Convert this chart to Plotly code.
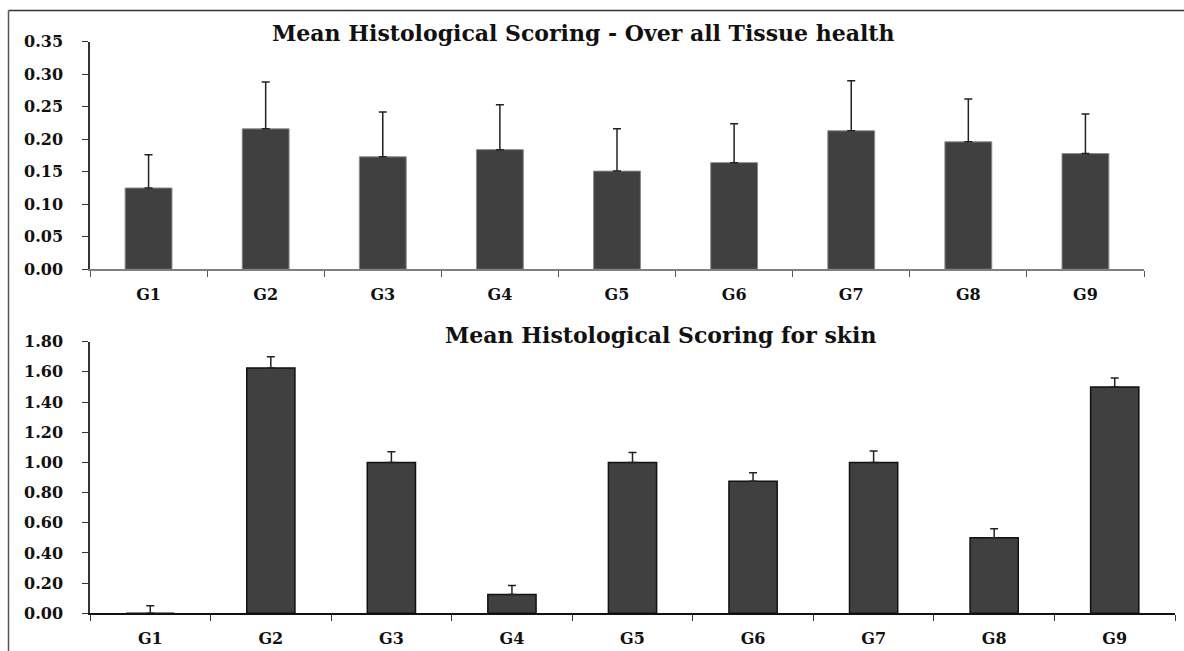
import plotly.graph_objects as go

groups = ["G1", "G2", "G3", "G4", "G5", "G6", "G7", "G8", "G9"]

tissue_mean = [0.125, 0.216, 0.173, 0.184, 0.151, 0.164, 0.213, 0.196, 0.178]
tissue_err = [0.051, 0.072, 0.069, 0.069, 0.065, 0.060, 0.077, 0.066, 0.061]

skin_mean = [0.0, 1.625, 1.0, 0.125, 1.0, 0.875, 1.0, 0.5, 1.5]
skin_err = [0.05, 0.075, 0.07, 0.06, 0.065, 0.057, 0.075, 0.06, 0.06]

top_title = "Mean Histological Scoring - Over all Tissue health"
bottom_title = "Mean Histological Scoring for skin"

W, H = 1184, 651
FONT = "DejaVu Serif"
BAR = "#404040"


def px_x(x):
    return x / W


def px_y(y):
    return 1 - y / H


fig = go.Figure()

fig.add_trace(go.Bar(
    x=groups, y=tissue_mean, width=0.4,
    marker=dict(color=BAR, line=dict(color="#8a8a8a", width=1)),
    error_y=dict(type="data", array=tissue_err, symmetric=False,
                 arrayminus=[0] * len(groups), color="#222222",
                 thickness=1.5, width=4),
    xaxis="x", yaxis="y", showlegend=False,
))
fig.add_trace(go.Bar(
    x=groups, y=skin_mean, width=0.4,
    marker=dict(color=BAR, line=dict(color="#111111", width=1.5)),
    error_y=dict(type="data", array=skin_err, symmetric=False,
                 arrayminus=[0] * len(groups), color="#222222",
                 thickness=1.5, width=4),
    xaxis="x2", yaxis="y2", showlegend=False,
))

tickfont = dict(family=FONT, size=16, color="#111111", weight="bold")
titlefont = dict(family=FONT, size=22, color="#111111", weight="bold")

fig.update_layout(
    width=W, height=H,
    margin=dict(l=0, r=0, t=0, b=0, autoexpand=False),
    paper_bgcolor="white", plot_bgcolor="white",
    xaxis=dict(domain=[px_x(90), px_x(1144)], anchor="y", automargin=False,
               type="category", tickson="boundaries", ticks="outside",
               ticklen=6, tickcolor="#555555", showline=True,
               linecolor="#808080", linewidth=1.5, showgrid=False,
               tickfont=tickfont, ticklabelstandoff=10),
    yaxis=dict(domain=[px_y(269.3), px_y(41.7)], anchor="x", automargin=False,
               range=[0, 0.35], dtick=0.05, tickformat=".2f",
               ticks="outside", ticklen=6, tickcolor="#333333",
               showline=True, linecolor="#333333", linewidth=1.5,
               showgrid=False, zeroline=False, tickfont=tickfont,
               ticklabelstandoff=16),
    xaxis2=dict(domain=[px_x(90), px_x(1175)], anchor="y2", automargin=False,
                type="category", tickson="boundaries", ticks="outside",
                ticklen=6, tickcolor="#333333", showline=True,
                linecolor="#111111", linewidth=1.5, showgrid=False,
                tickfont=tickfont, ticklabelstandoff=10),
    yaxis2=dict(domain=[px_y(613.3), px_y(341.7)], anchor="x2",
                automargin=False,
                range=[0, 1.8], dtick=0.2, tickformat=".2f",
                ticks="outside", ticklen=6, tickcolor="#333333",
                showline=True, linecolor="#333333", linewidth=1.5,
                showgrid=False, zeroline=False, tickfont=tickfont,
                ticklabelstandoff=16),
    annotations=[
        dict(text=top_title, x=px_x(583), y=px_y(33), xref="paper",
             yref="paper", showarrow=False, xanchor="center",
             yanchor="middle", font=titlefont),
        dict(text=bottom_title, x=px_x(660), y=px_y(335), xref="paper",
             yref="paper", showarrow=False, xanchor="center",
             yanchor="middle", font=titlefont),
    ],
    shapes=[
        dict(type="line", xref="paper", yref="paper",
             x0=px_x(8.5), x1=1, y0=px_y(10.5), y1=px_y(10.5),
             line=dict(color="#333333", width=1.5)),
        dict(type="line", xref="paper", yref="paper",
             x0=px_x(8.5), x1=px_x(8.5), y0=px_y(10.5), y1=0,
             line=dict(color="#555555", width=1.5)),
    ],
)

fig.write_html("out.html",
               config={"displayModeBar": False},
               post_script="document.body.style.margin='0px';"
                           "document.body.style.overflow='hidden';")
